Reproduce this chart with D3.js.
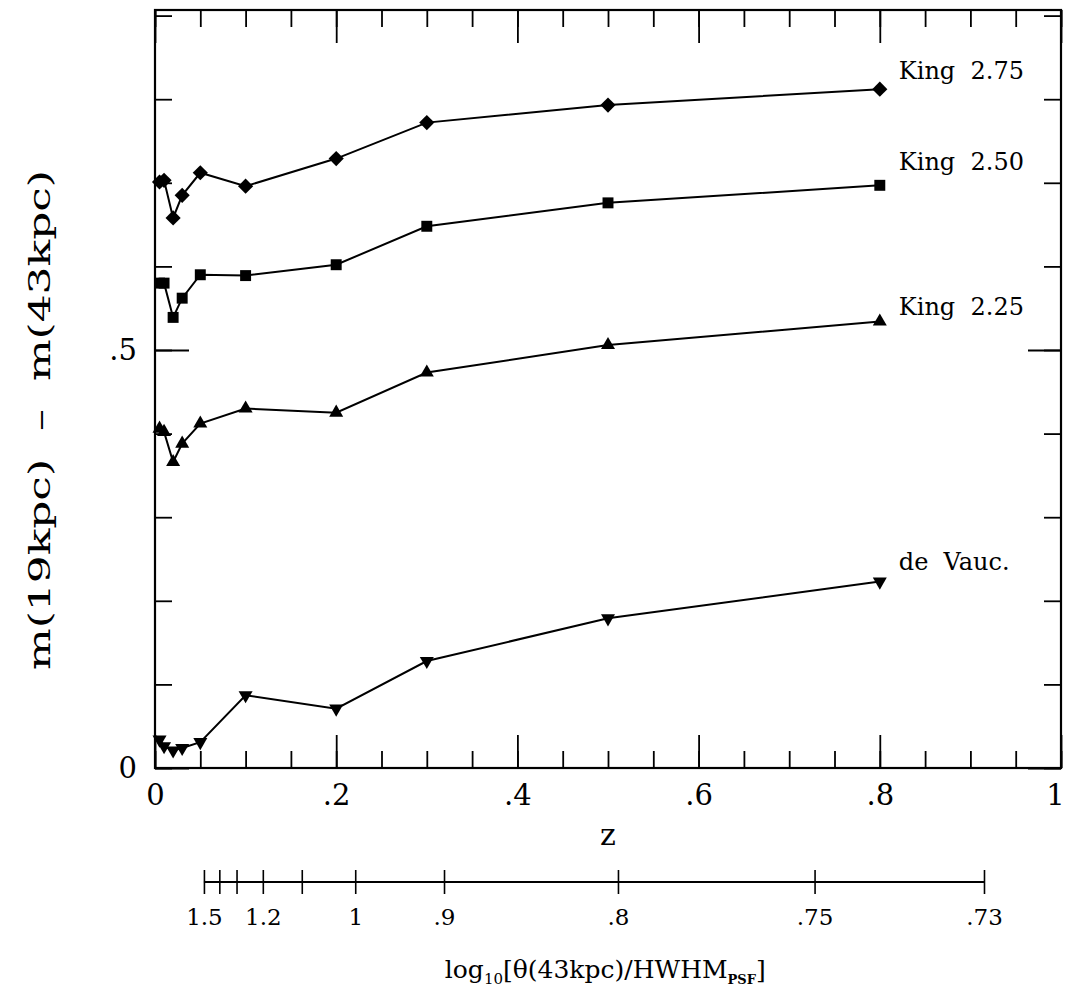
<!DOCTYPE html>
<html>
<head>
<meta charset="utf-8">
<script src="https://cdn.jsdelivr.net/npm/d3@7"></script>
<style>
  body { margin: 0; background: #fff; }
  svg { display: block; }
  text { font-family: "DejaVu Serif", "Liberation Serif", serif; fill: #000; }
</style>
</head>
<body>
<script>
// redshift values where the models were evaluated
var zValues = [0.005, 0.01, 0.02, 0.03, 0.05, 0.1, 0.2, 0.3, 0.5, 0.8];

// m(19kpc) - m(43kpc) for each profile model
var king275 = [0.701, 0.703, 0.658, 0.685, 0.712, 0.696, 0.729, 0.772, 0.793, 0.812];
var king250 = [0.580, 0.580, 0.539, 0.562, 0.590, 0.589, 0.602, 0.648, 0.676, 0.697];
var king225 = [0.406, 0.402, 0.366, 0.388, 0.412, 0.430, 0.425, 0.473, 0.506, 0.534];
var deVauc  = [0.034, 0.026, 0.021, 0.024, 0.031, 0.087, 0.071, 0.128, 0.179, 0.223];

var seriesNames = ["King 2.75", "King 2.50", "King 2.25", "de Vauc."];

// secondary axis: log10[theta(43kpc)/HWHM] labels and where they fall in z
var secLabels = ["1.5", "", "", "1.2", "", "1", ".9", ".8", ".75", ".73"];
var secZ = [0.054, 0.071, 0.090, 0.119, 0.162, 0.221, 0.319, 0.511, 0.728, 0.915];

var xMajor = [0, 0.2, 0.4, 0.6, 0.8, 1];
var xMinor = d3.range(0, 1.0001, 0.05);
var yMajor = [0, 0.5];
var yMinor = d3.range(0, 0.9001, 0.1);

var margin = {top: 10, right: 6, bottom: 223, left: 155};
var W = 1067, H = 991;
var width = W - margin.left - margin.right,
    height = H - margin.top - margin.bottom;

var svg = d3.select("body").append("svg").attr("width", W).attr("height", H);
var g = svg.append("g").attr("transform", "translate(" + margin.left + "," + margin.top + ")");

var x = d3.scaleLinear().domain([0, 1]).range([0, width]);
var y = d3.scaleLinear().domain([0, 0.9067]).range([height, 0]);

function fmt(d) {
  if (d === 0) return "0";
  if (d === 1) return "1";
  return d3.format(".1f")(d).replace(/^0/, "");
}

// minor ticks on all four sides
g.append("g").attr("transform", "translate(0," + height + ")")
  .call(d3.axisBottom(x).tickValues(xMinor).tickSize(-17).tickSizeOuter(0).tickFormat(""));
g.append("g")
  .call(d3.axisTop(x).tickValues(xMinor).tickSize(-17).tickSizeOuter(0).tickFormat(""));
g.append("g")
  .call(d3.axisLeft(y).tickValues(yMinor).tickSize(-17).tickSizeOuter(0).tickFormat(""));
g.append("g").attr("transform", "translate(" + width + ",0)")
  .call(d3.axisRight(y).tickValues(yMinor).tickSize(-17).tickSizeOuter(0).tickFormat(""));

// major ticks (longer) with labels on bottom and left
g.append("g").attr("class", "xmaj").attr("transform", "translate(0," + height + ")")
  .call(d3.axisBottom(x).tickValues(xMajor).tickSize(-33).tickSizeOuter(0).tickPadding(16).tickFormat(fmt));
g.append("g")
  .call(d3.axisTop(x).tickValues(xMajor).tickSize(-33).tickSizeOuter(0).tickFormat(""));
g.append("g").attr("class", "ymaj")
  .call(d3.axisLeft(y).tickValues(yMajor).tickSize(-34).tickSizeOuter(0).tickPadding(18).tickFormat(fmt));
g.append("g").attr("transform", "translate(" + width + ",0)")
  .call(d3.axisRight(y).tickValues(yMajor).tickSize(-33).tickSizeOuter(0).tickFormat(""));

g.selectAll(".domain").remove();
g.selectAll(".tick line").attr("stroke", "#000").attr("stroke-width", 1.8);
g.selectAll(".xmaj text, .ymaj text")
  .style("font-family", "'DejaVu Serif', serif").style("font-size", "29px").attr("fill", "#000");
// keep the "1" at the right edge inside the picture
g.selectAll(".xmaj .tick").filter(function(d) { return d === 1; }).select("text").attr("dx", -6);

// frame
g.append("rect").attr("x", 0).attr("y", 0).attr("width", width).attr("height", height)
  .attr("fill", "none").attr("stroke", "#000").attr("stroke-width", 2.2);

// data series
var allSeries = [king275, king250, king225, deVauc];
var symbols = [
  {type: d3.symbolSquare, size: 115, rot: 45},
  {type: d3.symbolSquare, size: 120, rot: 0},
  {type: d3.symbolTriangle, size: 85, rot: 0},
  {type: d3.symbolTriangle, size: 85, rot: 180}
];
var line = d3.line().x(function(d) { return x(d[0]); }).y(function(d) { return y(d[1]); });

allSeries.forEach(function(vals, si) {
  var pts = zValues.map(function(z, i) { return [z, vals[i]]; });
  g.append("path").datum(pts).attr("d", line)
    .attr("fill", "none").attr("stroke", "#000").attr("stroke-width", 2);
  var sym = d3.symbol().type(symbols[si].type).size(symbols[si].size);
  g.selectAll(".pt" + si).data(pts).enter().append("path")
    .attr("class", "pt" + si)
    .attr("d", sym)
    .attr("transform", function(d) {
      return "translate(" + x(d[0]) + "," + y(d[1]) + ") rotate(" + symbols[si].rot + ")";
    })
    .attr("fill", "#000");
});

// series labels next to the last point
var labelDy = [-10, -15, -7, -12];
seriesNames.forEach(function(name, si) {
  var last = allSeries[si][allSeries[si].length - 1];
  g.append("text")
    .attr("x", x(zValues[zValues.length - 1]) + 19)
    .attr("y", y(last) + labelDy[si])
    .attr("xml:space", "preserve")
    .style("white-space", "pre")
    .style("font-size", "24px")
    .text(name.replace(" ", "  "));
});

// axis titles
g.append("text")
  .attr("x", x(0.5)).attr("y", height + 77)
  .attr("text-anchor", "middle").style("font-size", "30px").text("z");

svg.append("text")
  .attr("transform", "translate(50,420) rotate(-90)")
  .attr("text-anchor", "middle")
  .attr("textLength", 500).attr("lengthAdjust", "spacingAndGlyphs")
  .attr("xml:space", "preserve").style("white-space", "pre")
  .style("font-size", "30px")
  .text("m(19kpc)  –  m(43kpc)");

// secondary axis below the plot
var secY = height + 114;
var sec = g.append("g").attr("class", "sec").attr("transform", "translate(0," + secY + ")")
  .call(d3.axisBottom(x).tickValues(secZ).tickSize(12).tickSizeOuter(0).tickPadding(15)
    .tickFormat(function(d, i) { return secLabels[i]; }));
sec.select(".domain").remove();
sec.selectAll(".tick line").attr("y1", -12).attr("stroke", "#000").attr("stroke-width", 1.6);
sec.selectAll(".tick text").style("font-family", "'DejaVu Serif', serif").style("font-size", "23px").attr("fill", "#000");
sec.append("line")
  .attr("x1", x(secZ[0])).attr("x2", x(secZ[secZ.length - 1]))
  .attr("y1", 0).attr("y2", 0)
  .attr("stroke", "#000").attr("stroke-width", 2);

var title = g.append("text")
  .attr("x", x(0.497)).attr("y", height + 210)
  .attr("text-anchor", "middle").style("font-size", "25px");
title.append("tspan").text("log");
title.append("tspan").attr("dy", 6).style("font-size", "15px").text("10");
title.append("tspan").attr("dy", -6).text("[θ(43kpc)/HWHM");
title.append("tspan").attr("dy", 6).style("font-size", "13px").style("font-weight", "bold").text("PSF");
title.append("tspan").attr("dy", -6).text("]");
</script>
</body>
</html>
